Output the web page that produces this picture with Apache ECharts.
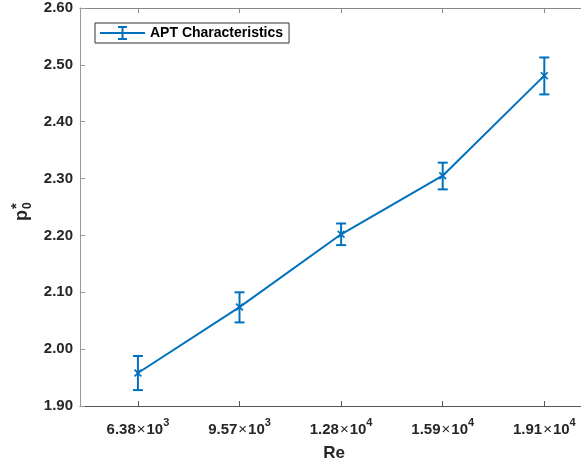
<!DOCTYPE html>
<html>
<head>
<meta charset="utf-8">
<script src="https://cdn.jsdelivr.net/npm/echarts@6/dist/echarts.min.js"></script>
<style>
html,body{margin:0;padding:0;background:#fff;}
#c{width:581px;height:466px;}
</style>
</head>
<body>
<div id="c"></div>
<script>
// ---- data ----
const seriesName = 'APT Characteristics';
const reMantissa = ['6.38', '9.57', '1.28', '1.59', '1.91'];
const reExponent = ['3', '3', '4', '4', '4'];
const xPos = [1, 2, 3, 4, 5];
const p0Values = [1.958, 2.074, 2.202, 2.305, 2.481];
const errLower = [1.928, 2.047, 2.183, 2.281, 2.448];
const errUpper = [1.988, 2.100, 2.221, 2.328, 2.513];
const yTicks = [1.9, 2.0, 2.1, 2.2, 2.3, 2.4, 2.5, 2.6];

const BLUE = '#0072BD';
const FONT = 'Liberation Sans, Arial, sans-serif';
const chart = echarts.init(document.getElementById('c'), null, {renderer: 'canvas'});

const lineData = xPos.map((x, i) => [x, p0Values[i]]);
const errData = xPos.map((x, i) => [x, errLower[i], errUpper[i]]);

const xMin = 0.43, xMax = 5.43;

const option = {
  animation: false,
  backgroundColor: '#fff',
  grid: {left: 80, right: -7, top: 8, bottom: 60, containLabel: false, outerBoundsMode: 'none'},
  legend: {
    left: 95, top: 23,
    orient: 'horizontal',
    backgroundColor: '#fff',
    borderColor: '#333',
    borderWidth: 1,
    borderRadius: 0,
    padding: [3, 6, 3, 5],
    itemWidth: 45, itemHeight: 16, itemGap: 5,
    data: [{
      name: seriesName,
      icon: 'path://M0,7 L45,7 L45,9 L0,9 Z M21.5,2 L23.5,2 L23.5,14 L21.5,14 Z M18,1 L27,1 L27,3 L18,3 Z M18,13 L27,13 L27,15 L18,15 Z'
    }],
    textStyle: {fontFamily: FONT, fontWeight: 'bold', fontSize: 14, color: '#000'}
  },
  xAxis: [{
    type: 'value', min: xMin, max: xMax, position: 'bottom',
    splitLine: {show: false},
    axisLine: {show: true, lineStyle: {color: '#555', width: 1}},
    axisTick: {show: true, inside: true, length: 5, customValues: xPos, lineStyle: {color: '#555'}},
    axisLabel: {
      customValues: xPos,
      margin: 11,
      formatter: function (v) {
        const i = xPos.indexOf(Math.round(v));
        if (i < 0) return '';
        return '{m|' + reMantissa[i] + '}{t|×}{m|10}{e|' + reExponent[i] + '}';
      },
      rich: {
        m: {fontFamily: FONT, fontWeight: 'bold', fontSize: 15, color: '#262626', lineHeight: 20, verticalAlign: 'bottom'},
        t: {fontFamily: FONT, fontWeight: 'normal', fontSize: 15, color: '#262626', lineHeight: 20, verticalAlign: 'bottom', padding: [0,1,0,1]},
        e: {fontFamily: FONT, fontWeight: 'bold', fontSize: 11, color: '#262626', lineHeight: 20, verticalAlign: 'top'}
      }
    },
    name: 'Re', nameLocation: 'middle', nameGap: 39,
    nameTextStyle: {fontFamily: FONT, fontWeight: 'bold', fontSize: 17, color: '#262626'}
  }, {
    type: 'value', min: xMin, max: xMax, position: 'top',
    splitLine: {show: false},
    axisLine: {show: true, lineStyle: {color: '#888', width: 1}},
    axisTick: {show: true, inside: true, length: 5, customValues: xPos, lineStyle: {color: '#888'}},
    axisLabel: {show: false}
  }],
  yAxis: {
    type: 'value', min: yTicks[0], max: yTicks[yTicks.length - 1], interval: 0.1,
    splitLine: {show: false},
    axisLine: {show: true, lineStyle: {color: '#999', width: 1}},
    axisTick: {show: true, inside: true, length: 5, lineStyle: {color: '#999'}},
    axisLabel: {
      margin: 7,
      formatter: v => v.toFixed(2),
      fontFamily: FONT, fontWeight: 'bold', fontSize: 15, color: '#262626'
    }
  },
  graphic: [{
    type: 'group', x: 25, y: 221, rotation: Math.PI / 2,
    children: [
      {type: 'text', x: 0, y: -3, style: {text: 'p', font: 'bold 18px "Liberation Sans", Arial, sans-serif', fill: '#262626', verticalAlign: 'middle', align: 'left'}},
      {type: 'text', x: 12, y: 3, style: {text: '0', font: 'bold 12px "Liberation Sans", Arial, sans-serif', fill: '#262626', verticalAlign: 'middle', align: 'left'}},
      {type: 'text', x: 12, y: -8, style: {text: '*', font: 'bold 15px "Liberation Sans", Arial, sans-serif', fill: '#262626', verticalAlign: 'middle', align: 'left'}}
    ]
  }],
  series: [{
    name: seriesName,
    type: 'line',
    data: lineData,
    lineStyle: {color: BLUE, width: 2},
    itemStyle: {color: BLUE},
    symbol: 'path://M0,1.5 L1.5,0 L5,3.5 L8.5,0 L10,1.5 L6.5,5 L10,8.5 L8.5,10 L5,6.5 L1.5,10 L0,8.5 L3.5,5 Z',
    symbolSize: 8,
    showSymbol: true,
    z: 3
  }, {
    name: seriesName,
    type: 'custom',
    data: errData,
    encode: {x: 0, y: [1, 2]},
    renderItem: function (params, api) {
      const x = api.value(0);
      const top = api.coord([x, api.value(2)]);
      const bot = api.coord([x, api.value(1)]);
      const hw = 5;
      const st = {stroke: BLUE, lineWidth: 2, fill: null};
      return {
        type: 'group',
        children: [
          {type: 'line', shape: {x1: top[0], y1: top[1], x2: bot[0], y2: bot[1]}, style: st},
          {type: 'line', shape: {x1: top[0] - hw, y1: top[1], x2: top[0] + hw, y2: top[1]}, style: st},
          {type: 'line', shape: {x1: bot[0] - hw, y1: bot[1], x2: bot[0] + hw, y2: bot[1]}, style: st}
        ]
      };
    },
    z: 2
  }]
};
chart.setOption(option);
</script>
</body>
</html>
